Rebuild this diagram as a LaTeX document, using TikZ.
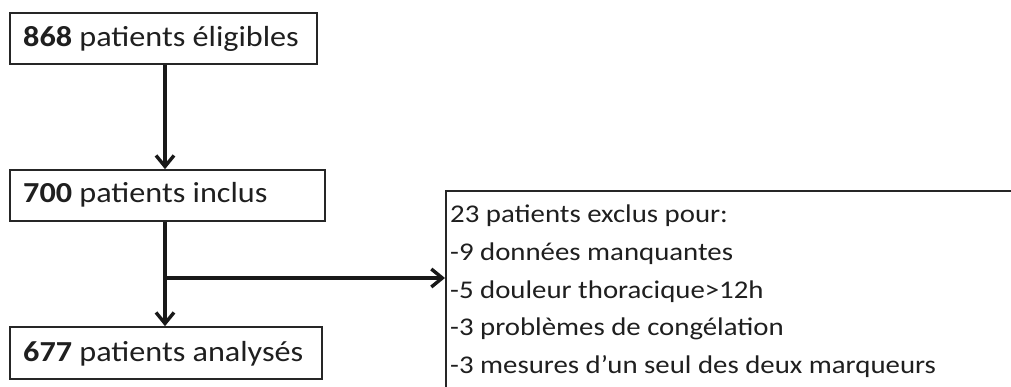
\documentclass[tikz,border=0pt]{standalone}
\usepackage{fontspec}
\usepackage{graphicx}
\setmainfont{Carlito}
\usetikzlibrary{arrows.meta}
\begin{document}
\begin{tikzpicture}[x=1pt,y=-1pt,
  box/.style={draw=black!85,line width=1.7pt,rectangle,inner sep=0pt},
  lbl/.style={anchor=base west,inner sep=0pt,text=black!88,font=\fontsize{29}{34}\selectfont},
  conn/.style={line width=3.2pt,black!90,-{Straight Barb[length=11pt,width=18pt,line width=3.4pt]}}]
\useasboundingbox (0,0) rectangle (1011,387);
\clip (0,0) rectangle (1011,387);
\fill[white] (0,0) rectangle (1011,387);
\node[box,minimum width=307pt,minimum height=51pt] (b1) at (163.5,38.5) {};
\node[box,minimum width=315pt,minimum height=51pt] (b2) at (167.5,195.5) {};
\node[box,minimum width=312pt,minimum height=52pt] (b3) at (166,353) {};
\node[lbl] (t1) at (23,47) {\scalebox{1.11}[1]{\textbf{868} patients éligibles}};
\node[lbl] (t2) at (23,203) {\scalebox{1.11}[1]{\textbf{700} patients inclus}};
\node[lbl] (t3) at (23,361) {\scalebox{1.11}[1]{\textbf{677} patients analysés}};
\node[box,anchor=north west,minimum width=620pt,minimum height=240pt] (b4) at (445,190) {};
\node[anchor=base west,inner sep=0pt,text=black!88,font=\fontsize{25.5}{37.5}\selectfont] (t4) at (450,223) {\scalebox{1.13}[1]{\begin{tabular}[t]{@{}l@{}}23 patients exclus pour:\\-9 données manquantes\\-5 douleur thoracique>12h\\-3 problèmes de congélation\\-3 mesures d’un seul des deux marqueurs\end{tabular}}};
\draw[conn] (b1.south -| 165,0) -- (b2.north -| 165,0);
\draw[conn] (b2.south -| 165,0) -- (b3.north -| 165,0);
\coordinate (j) at (165,278);
\draw[conn] (j) -- (b4.west |- j);
\end{tikzpicture}
\end{document}
